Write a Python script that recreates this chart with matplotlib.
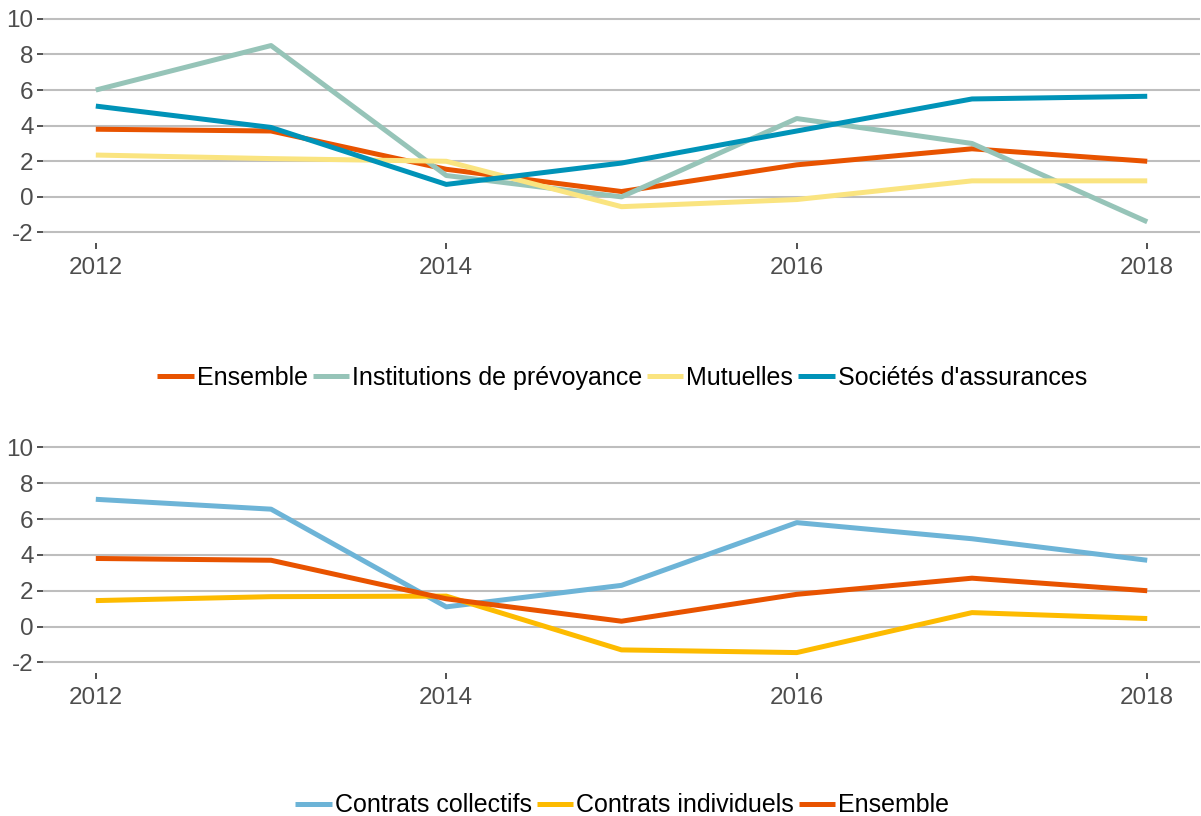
import matplotlib

matplotlib.use("Agg")
import matplotlib.pyplot as plt

plt.rcParams["font.family"] = ["Liberation Sans", "DejaVu Sans"]
plt.rcParams["axes.unicode_minus"] = False

years = [2012, 2013, 2014, 2015, 2016, 2017, 2018]

# top panel: by type of organism
ensemble = [3.8, 3.7, 1.55, 0.3, 1.8, 2.7, 2.0]
institutions = [6.0, 8.5, 1.2, 0.0, 4.4, 3.0, -1.4]
mutuelles = [2.35, 2.15, 2.0, -0.55, -0.15, 0.9, 0.9]
societes = [5.1, 3.9, 0.7, 1.9, 3.7, 5.5, 5.65]

# bottom panel: by type of contract
collectifs = [7.1, 6.55, 1.1, 2.3, 5.8, 4.9, 3.7]
individuels = [1.45, 1.67, 1.7, -1.3, -1.45, 0.78, 0.45]

top_series = [
    ("Ensemble", ensemble, "#E85300"),
    ("Institutions de prévoyance", institutions, "#96C4B8"),
    ("Mutuelles", mutuelles, "#FAE480"),
    ("Sociétés d'assurances", societes, "#0093B8"),
]
bottom_series = [
    ("Contrats collectifs", collectifs, "#6DB4D7"),
    ("Contrats individuels", individuels, "#FDBB00"),
    ("Ensemble", ensemble, "#E85300"),
]

yticks = [-2, 0, 2, 4, 6, 8, 10]
xticks = [2012, 2014, 2016, 2018]


def style_axes(ax):
    for s in ax.spines.values():
        s.set_visible(False)
    ax.set_xlim(2012 - 0.3, 2018 + 0.3)
    ax.set_ylim(-2.6, 10.6)
    ax.set_yticks(yticks)
    ax.set_xticks(xticks)
    ax.grid(axis="y", color="#BEBEBE", linewidth=1.5)
    ax.grid(axis="x", visible=False)
    ax.set_axisbelow(True)
    ax.tick_params(axis="both", colors="#333333", labelcolor="#4D4D4D",
                   labelsize=17.5, length=4, width=1.2)
    ax.tick_params(axis="x", pad=6)
    ax.tick_params(axis="y", pad=3)


fig = plt.figure(figsize=(12.01, 8.16), dpi=100)
ax1 = fig.add_axes([0.036, 0.702, 0.963, 0.288])
ax2 = fig.add_axes([0.036, 0.175, 0.963, 0.29])

for ax, series, leg_y in [(ax1, top_series, 0.537), (ax2, bottom_series, 0.013)]:
    style_axes(ax)
    for name, vals, col in series:
        ax.plot(years, vals, color=col, linewidth=3.6, label=name,
                solid_capstyle="butt")
    fig.legend(*ax.get_legend_handles_labels(), loc="center",
               bbox_to_anchor=(0.518, leg_y), ncol=len(series), frameon=False,
               fontsize=18, handlelength=1.45, handletextpad=0.12,
               columnspacing=0.2, borderaxespad=0, borderpad=0)

fig.savefig("out.png", dpi=100)
